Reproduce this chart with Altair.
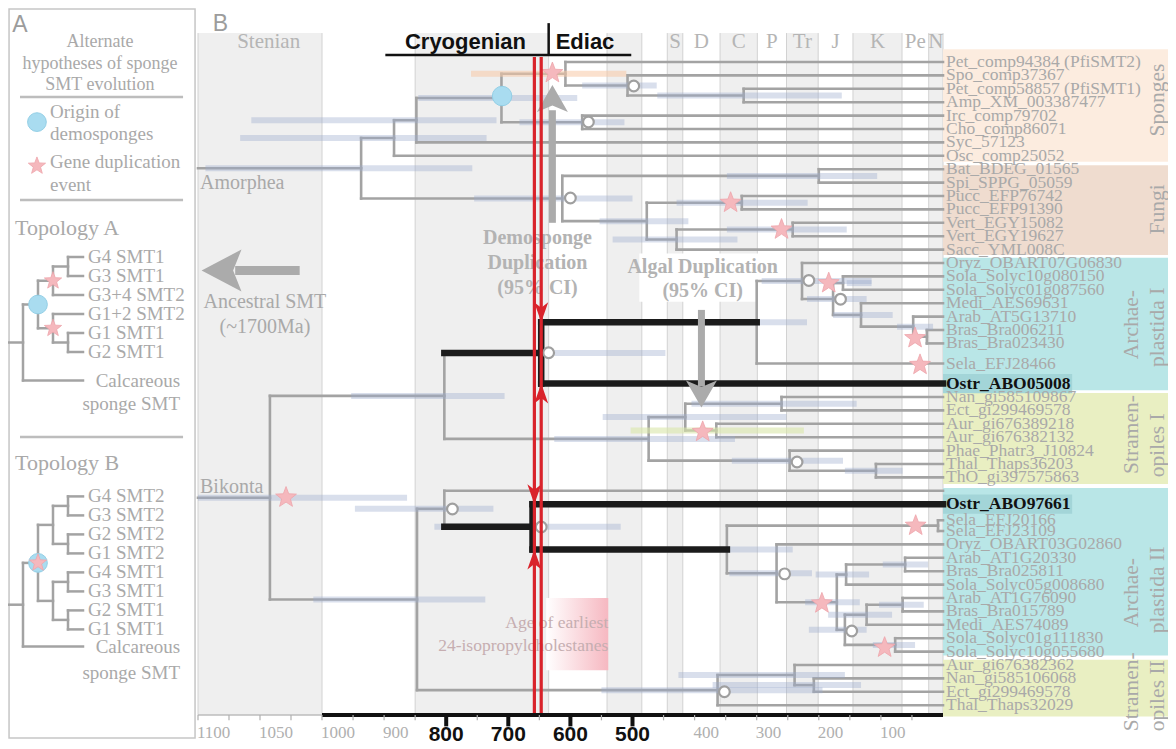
import altair as alt
import pandas as pd

SERIF = "Liberation Serif"
SANS = "Liberation Sans"
LINE_GREY = "#a3a3a3"
TEXT_GREY = "#a9a9a9"

# ====================== DATA ======================
# --- geological time bands (Ma) ---
period_names = ["Stenian", "Tonian", "Cryogenian", "Ediacaran", "Cambrian", "Ordovician",
                "S", "D", "C", "P", "Tr", "J", "K", "Pe", "N"]
period_old = [1100, 1000, 850, 635, 541, 485, 444, 419, 359, 299, 252, 201, 145, 66, 23]
period_young = [1000, 850, 635, 541, 485, 444, 419, 359, 299, 252, 201, 145, 66, 23, 0]
period_shaded = [1, 0, 1, 0, 1, 0, 1, 0, 1, 0, 1, 0, 1, 0, 1]
period_label_age = [1043, None, None, None, None, None, 431.5, 389, 329, 275.5, 226.5, 173, 105.5, 44.5, 11.5]
grid_ages = [1100, 1000, 850, 635, 541, 485, 444, 419, 359, 299, 252, 201, 145, 66, 23, 0]

# --- axis ---
tick_ages = [1100, 1075, 1050, 1025, 1000, 950, 900, 850, 800, 750, 700, 650, 600, 550,
             500, 450, 400, 350, 300, 250, 200, 150, 100, 50]
tick_labels_grey = [1100, 1050, 1000, 900, 400, 300, 200, 100]
tick_labels_bold = [800, 700, 600, 500]

# --- leaves (top to bottom) and their row in the tree ---
leaf_names = [
    "Pet_comp94384 (PfiSMT2)", "Spo_comp37367", "Pet_comp58857 (PfiSMT1)", "Amp_XM_003387477",
    "Irc_comp79702", "Cho_comp86071", "Syc_57123", "Osc_comp25052",
    "Bat_BDEG_01565", "Spi_SPPG_05059", "Pucc_EFP76742", "Pucc_EFP91390",
    "Vert_EGY15082", "Vert_EGY19627", "Sacc_YML008C",
    "Oryz_OBART07G06830", "Sola_Solyc10g080150", "Sola_Solyc01g087560", "Medi_AES69631",
    "Arab_AT5G13710", "Bras_Bra006211", "Bras_Bra023430", "Sela_EFJ28466", "Ostr_ABO05008",
    "Nan_gi585109867", "Ect_gi299469578", "Aur_gi676389218", "Aur_gi676382132",
    "Phae_Phatr3_J10824", "Thal_Thaps36203", "ThO_gi397575863", "",
    "Ostr_ABO97661", "Sela_EFJ20166", "Sela_EFJ23109", "Oryz_OBART03G02860",
    "Arab_AT1G20330", "Bras_Bra025811", "Sola_Solyc05g008680", "Arab_AT1G76090",
    "Bras_Bra015789", "Medi_AES74089", "Sola_Solyc01g111830", "Sola_Solyc10g055680",
    "Aur_gi676382362", "Nan_gi585106068", "Ect_gi299469578", "Thal_Thaps32029",
]
leaf_rows = [0, 1, 2, 3, 4, 5, 6, 7, 8, 9, 10, 11, 12, 13, 14,
             15, 16, 17, 18, 19, 20, 21, 22.5, 24,
             25, 26, 27, 28, 29, 30, 31, 32,
             33, 34.2, 35, 36, 37, 38, 39, 40, 41, 42, 43, 44,
             45, 46, 47, 48]
bold_leaves = [23, 32]

# --- internal nodes: name, age (Ma), children (int = leaf index) ---
node_names = ["SF", "SP", "DS", "DM", "D1", "D2", "PA", "IC", "FU", "BS", "F2", "PU", "F3", "VE",
              "BK", "UP", "B1", "A1", "A1a", "A1b", "SolP", "A1c", "A1d", "BrP",
              "S1", "S1a", "NE1", "AU1", "S1b", "TT",
              "LO", "L1", "B2", "A2", "SeP", "A2a", "A2b", "A2c", "AB1", "A2d", "A2e", "AB2", "SoP2",
              "S2", "S2a", "NE2"]
node_ages = [937, 884, 848, 711, 608, 508, 321, 581, 613, 200, 477, 324, 429, 242,
             1042, 803, 647, 300, 227, 177, 161, 132, 48, 26,
             474, 415, 260, 365, 247, 108,
             847, 803, 661, 348, 8, 268, 171, 156, 61, 158, 123, 65, 77,
             363, 239, 208]
node_kids = [["SP", "FU"], ["DS", 7], ["DM", 6], ["D1", "IC"], [0, "D2"], [1, "PA"], [2, 3], [4, 5],
             ["BS", "F2"], [8, 9], ["PU", "F3"], [10, 11], ["VE", 14], [12, 13],
             ["UP", "LO"], ["B1", "S1"], ["A1", 23], ["A1a", 22], [15, "A1b"], ["SolP", "A1c"], [16, 17],
             [18, "A1d"], [19, "BrP"], [20, 21],
             ["S1a", "S1b"], ["NE1", "AU1"], [24, 25], [26, 27], [28, "TT"], [29, 30],
             ["L1", "S2"], [31, "B2"], [32, "A2"], ["SeP", "A2a"], [33, 34], [35, "A2b"], ["A2c", "A2d"],
             ["AB1", 38], [36, 37], ["A2e", "SoP2"], ["AB2", 41], [39, 40], [42, 43],
             ["S2a", 47], [44, "NE2"], [45, 46]]
root_nodes = ["SF", "BK"]
black_edges = [("UP", "B1"), ("B1", "A1"), ("B1", 23), ("L1", "B2"), ("B2", 32), ("B2", "A2")]
black_nodes = ["B1", "B2"]

# --- 95% CI bars of node ages (old, young) ---
ci_node = ["SF", "SP", "DS", "DM", "D1", "D2", "PA", "IC", "FU", "BS", "F2", "PU", "F3", "VE",
           "BK", "UP", "B1", "A1", "A1a", "A1b", "SolP", "A1c", "A1d",
           "S1", "S1a", "NE1", "AU1", "S1b", "TT",
           "LO", "L1", "B2", "A2", "A2a", "A2b", "A2c", "AB1", "A2d", "A2e", "AB2", "SoP2",
           "S2", "S2a", "NE2"]
ci_old = [1094, 1066, 1057, 845, 760, 581, 460, 682, 755, 348, 553, 429, 532, 348,
          1100, 953, 626, 392, 292, 219, 155, 177, 74,
          626, 548, 405, 503, 340, 158,
          1007, 947, 819, 348, 344, 222, 205, 97, 216, 185, 103, 113,
          550, 426, 371]
ci_young = [758, 735, 719, 589, 510, 461, 163, 513, 500, 106, 410, 218, 331, 155,
            863, 706, 447, 219, 115, 123, 115, 81, 16,
            335, 252, 139, 224, 161, 65,
            737, 724, 519, 242, 211, 134, 119, 24, 123, 82, 31, 45,
            194, 158, 132]
ci_kind = ["grey"] * len(ci_node)
ci_kind[ci_node.index("D1")] = "sponge"
ci_kind[ci_node.index("AU1")] = "algal"

# --- markers ---
star_age = [629, 342, 260, 184, 45, 37, 387, 1029, 44, 195, 94]
star_row = [0.82, 10.5, 12.5, 16.5, 20.6, 22.6, 27.6, 32.5, 34.6, 40.4, 43.7]
circle_age = [498, 571, 600, 216, 165, 635, 235, 790, 647, 255, 147, 352]
circle_row = [1.79, 4.48, 10.15, 16.3, 17.7, 21.7, 29.85, 33.36, 34.7, 38.2, 42.46, 47.0]
demo_origin_age = [710]
demo_origin_row = [2.54]
red_line_ages = [658, 647]

# --- clade boxes on the right ---
group_names = ["Sponges", "Fungi", "Archaeplastida I", "Stramenopiles I", "Archaeplastida II", "Stramenopiles II"]
group_row_top = [-0.95, 7.7, 14.6, 24.7, 31.8, 44.6]
group_row_bottom = [7.45, 14.4, 24.5, 31.5, 44.3, 48.85]
group_colors = ["#fcecdf", "#efdccf", "#b9e6e7", "#e9efc2", "#b9e6e7", "#e9efc2"]
group_line1 = ["", "", "Archae-", "Stramen-", "Archae-", "Stramen-"]
group_line2 = ["Sponges", "Fungi", "plastida I", "opiles I", "plastida II", "opiles II"]
group_label_row1 = [2.84, 11.0, 19.6, 27.8, 39.6, 47.0]
group_label_row2 = [2.84, 11.0, 19.8, 28.6, 39.4, 47.3]

# --- panel A schematic trees (depth, row) ---
treeA_leaves = ["G4 SMT1", "G3 SMT1", "G3+4 SMT2", "G1+2 SMT2", "G1 SMT1", "G2 SMT1", ""]
treeA_rows = [0, 1, 2, 3, 4, 5, 6.5]
treeA_nodes = {"a4": (4, [0, 1]), "a2": (3, ["a4", 2]), "a5": (4, [4, 5]),
               "a3": (3, [3, "a5"]), "a1": (2, ["a2", "a3"]), "a0": (1, ["a1", 6])}
treeA_stars = ["a2", "a3"]
treeA_origin = ["a1"]
treeB_leaves = ["G4 SMT2", "G3 SMT2", "G2 SMT2", "G1 SMT2", "G4 SMT1", "G3 SMT1", "G2 SMT1", "G1 SMT1", ""]
treeB_rows = [12.6, 13.6, 14.6, 15.6, 16.6, 17.6, 18.6, 19.6, 20.5]
treeB_nodes = {"p1": (4, [0, 1]), "p2": (4, [2, 3]), "p3": (4, [4, 5]), "p4": (4, [6, 7]),
               "m1": (3, ["p1", "p2"]), "m2": (3, ["p3", "p4"]), "k": (2, ["m1", "m2"]),
               "r": (1, ["k", 8])}
treeB_stars = ["k"]
treeB_origin = ["k"]
LEAF_DEPTH = 5

# ====================== SCALES ======================
XS = alt.Scale(domain=[1100, 1000, 0], range=[190, 314, 935], nice=False, zero=False)
YS = alt.Scale(domain=[0, 48], range=[54, 697.2], nice=False, zero=False)
XA = alt.Scale(domain=[0, 10], range=[0, 150], nice=False, zero=False)
YA = alt.Scale(domain=[0, 10], range=[249, 439], nice=False, zero=False)

ROW_SHADE_TOP = -2.16
ROW_AXIS = 48.73


def lay(df, mark, x, y, x2=None, y2=None, panel="B", **enc):
    xs, ys = (XS, YS) if panel == "B" else (XA, YA)
    e = dict(x=alt.X(x, type="quantitative", scale=xs, axis=None),
             y=alt.Y(y, type="quantitative", scale=ys, axis=None))
    if x2:
        e["x2"] = alt.X2(x2)
    if y2:
        e["y2"] = alt.Y2(y2)
    e.update(enc)
    return mark(alt.Chart(pd.DataFrame(df))).encode(**e)


def txt(df, panel="B", **props):
    base = dict(font=SERIF, color=TEXT_GREY)
    base.update(props)
    return lay(df, lambda c: c.mark_text(**base), "x", "y", panel=panel, text=alt.Text("t:N"))


layers = []

# ---------- panel A frame ----------
layers.append(lay({"x": [0.07], "x2": [12.47], "y": [-13.05], "y2": [25.32]},
                  lambda c: c.mark_rect(filled=False, color="#c6c6c6", strokeWidth=1.5),
                  "x", "y", "x2", "y2", panel="A"))

# ---------- period shading & grid ----------
shade = pd.DataFrame({"o": period_old, "yg": period_young, "s": period_shaded})
shade = shade[shade.s == 1].assign(r1=ROW_SHADE_TOP, r2=ROW_AXIS)
layers.append(lay(shade, lambda c: c.mark_rect(color="#efefef"), "o", "r1", "yg", "r2"))
grid = pd.DataFrame({"a": grid_ages, "r1": ROW_SHADE_TOP, "r2": ROW_AXIS})
layers.append(lay(grid, lambda c: c.mark_rule(color="#d2d2d2", strokeWidth=1), "a", "r1", "a", "r2"))

# ---------- clade boxes ----------
grp = pd.DataFrame({"a1": 0, "a2": -400, "r1": group_row_top, "r2": group_row_bottom, "col": group_colors})
layers.append(lay(grp, lambda c: c.mark_rect(), "a1", "r1", "a2", "r2",
                  color=alt.Color("col:N", scale=None)))
ostr = pd.DataFrame({"a1": 0, "a2": -208,
                     "r1": [leaf_rows[i] - 0.72 for i in bold_leaves],
                     "r2": [leaf_rows[i] + 0.72 for i in bold_leaves]})
layers.append(lay(ostr, lambda c: c.mark_rect(color="#a3d5d8"), "a1", "r1", "a2", "r2"))

# ---------- sterane age box ----------
layers.append(lay({"a1": [639], "a2": [539], "r1": [40.0], "r2": [45.4]},
                  lambda c: c.mark_rect(color=alt.Gradient(
                      gradient="linear",
                      stops=[alt.GradientStop(color="#ffffff", offset=0),
                             alt.GradientStop(color="#f6b8c1", offset=1)],
                      x1=0, x2=1, y1=0, y2=0)),
                  "a1", "r1", "a2", "r2"))
# white backing for algal label
layers.append(lay({"a1": [489], "a2": [287], "r1": [14.3], "r2": [17.9]},
                  lambda c: c.mark_rect(color="white"), "a1", "r1", "a2", "r2"))

# ---------- tree geometry ----------
ages_of = dict(zip(node_names, node_ages))
kids_of = dict(zip(node_names, node_kids))
rows_of = {}


def rw(k):
    if isinstance(k, int):
        return leaf_rows[k]
    if k not in rows_of:
        ch = kids_of[k]
        rows_of[k] = (rw(ch[0]) + rw(ch[-1])) / 2
    return rows_of[k]


def ag(k):
    return 0.0 if isinstance(k, int) else ages_of[k]


segs = []
for n in node_names:
    ch = kids_of[n]
    segs.append(dict(a1=ag(n), a2=ag(n), r1=rw(ch[0]), r2=rw(ch[-1]), black=n in black_nodes))
    for c in ch:
        segs.append(dict(a1=ag(n), a2=ag(c), r1=rw(c), r2=rw(c), black=(n, c) in black_edges))
for rt in root_nodes:
    segs.append(dict(a1=1100, a2=ag(rt), r1=rw(rt), r2=rw(rt), black=False))
segs = pd.DataFrame(segs)

layers.append(lay(segs[~segs.black], lambda c: c.mark_rule(color=LINE_GREY, strokeWidth=2.6, strokeCap="square"),
                  "a1", "r1", "a2", "r2"))

ci = pd.DataFrame({"o": ci_old, "yg": ci_young, "k": ci_kind, "r": [rw(n) for n in ci_node]})
layers.append(lay(ci[ci.k == "grey"], lambda c: c.mark_rule(color="#9aaace", opacity=0.38, strokeWidth=6),
                  "o", "r", "yg", "r"))
layers.append(lay(ci[ci.k == "sponge"], lambda c: c.mark_rule(color="#f7c9a6", opacity=0.55, strokeWidth=6),
                  "o", "r", "yg", "r"))
layers.append(lay(ci[ci.k == "algal"], lambda c: c.mark_rule(color="#d9e6a8", opacity=0.6, strokeWidth=6),
                  "o", "r", "yg", "r"))

layers.append(lay(segs[segs.black], lambda c: c.mark_rule(color="#1b1b1b", strokeWidth=6.5, strokeCap="square"),
                  "a1", "r1", "a2", "r2"))

# ---------- grey arrows ----------
ARROW_GREY = "#ababab"
layers.append(lay({"a1": [629, 389], "a2": [629, 389], "r1": [12.0, 18.5], "r2": [3.6, 24.2]},
                  lambda c: c.mark_rule(color=ARROW_GREY, strokeWidth=7), "a1", "r1", "a2", "r2"))
layers.append(lay({"a1": [1070], "a2": [1018], "r1": [15.56], "r2": [15.56]},
                  lambda c: c.mark_rule(color=ARROW_GREY, strokeWidth=9), "a1", "r1", "a2", "r2"))
layers.append(lay({"a": [629], "r": [2.72]},
                  lambda c: c.mark_point(shape="M0,-0.87L1,0.87L0,0.45L-1,0.87Z", filled=True,
                                         color=ARROW_GREY, size=961, opacity=1), "a", "r"))
layers.append(lay({"a": [389], "r": [24.78]},
                  lambda c: c.mark_point(shape="M0,0.87L1,-0.87L0,-0.45L-1,-0.87Z", filled=True,
                                         color=ARROW_GREY, size=961, opacity=1), "a", "r"))
layers.append(lay({"a": [1081], "r": [15.56]},
                  lambda c: c.mark_point(shape="M-0.95,0L0.95,-1L0.55,0L0.95,1Z", filled=True,
                                         color=ARROW_GREY, size=1764, opacity=1), "a", "r"))

# ---------- node markers ----------
STAR = ("M0,-1L0.247,-0.34L0.951,-0.309L0.4,0.13L0.588,0.809L0,0.42L-0.588,0.809L-0.4,0.13"
        "L-0.951,-0.309L-0.247,-0.34Z")
layers.append(lay({"a": demo_origin_age, "r": demo_origin_row},
                  lambda c: c.mark_point(shape="circle", filled=True, fill="#a9dcf0", stroke="#93cfe6",
                                         strokeWidth=1, size=380, opacity=1), "a", "r"))
layers.append(lay({"a": star_age, "r": star_row},
                  lambda c: c.mark_point(shape=STAR, filled=True, fill="#f5b8bd", stroke="#eda4ab",
                                         strokeWidth=0.8, size=480, opacity=1), "a", "r"))
layers.append(lay({"a": circle_age, "r": circle_row},
                  lambda c: c.mark_point(shape="circle", filled=True, fill="white", stroke="#9f9f9f",
                                         strokeWidth=2.2, size=115, opacity=1), "a", "r"))

# ---------- annotation texts ----------
layers.append(txt({"x": [1100, 1100], "y": [9.0, 31.7], "t": ["Amorphea", "Bikonta"]},
                  fontSize=20, align="left", dx=2, baseline="middle"))
layers.append(txt({"x": [1046, 1046], "y": [17.9, 19.8], "t": ["Ancestral SMT", "(~1700Ma)"]},
                  fontSize=20, align="center", baseline="middle"))
layers.append(txt({"x": [653, 653, 653], "y": [13.13, 15.0, 16.87],
                   "t": ["Demosponge", "Duplication", "(95% CI)"]},
                  fontSize=20, fontWeight="bold", align="center", baseline="middle", color="#b3b3b3"))
layers.append(txt({"x": [387, 387], "y": [15.3, 17.1], "t": ["Algal Duplication", "(95% CI)"]},
                  fontSize=20, fontWeight="bold", align="center", baseline="middle", color="#b3b3b3"))
layers.append(txt({"x": [539, 539], "y": [41.9, 43.6], "t": ["Age of earliest", "24-isopropylcholestanes"]},
                  fontSize=17.5, align="right", baseline="middle", color="#c6aeb1"))

# ---------- leaf labels ----------
leaf_df = pd.DataFrame({"t": leaf_names, "y": leaf_rows, "x": 0.0})
leaf_df["bold"] = [i in bold_leaves for i in range(len(leaf_names))]
leaf_df = leaf_df[leaf_df.t != ""]
layers.append(txt(leaf_df[~leaf_df.bold], fontSize=17.5, align="left", dx=3, baseline="middle"))
layers.append(txt(leaf_df[leaf_df.bold], fontSize=17.5, fontWeight="bold", color="#111111",
                  align="left", dx=3, baseline="middle"))

# clade labels (rotated)
g1 = pd.DataFrame({"t": group_line1, "y": group_label_row1, "x": -305})
g1 = g1[g1.t != ""]
g2 = pd.DataFrame({"t": group_line2, "y": group_label_row2, "x": -346})
layers.append(txt(g1, fontSize=21.5, angle=270, align="center", baseline="middle"))
layers.append(txt(g2, fontSize=21.5, angle=270, align="center", baseline="middle"))

# ---------- red duplication lines ----------
red = pd.DataFrame({"a": red_line_ages, "r1": -0.37, "r2": ROW_AXIS})
layers.append(lay(red, lambda c: c.mark_rule(color="#d9232b", strokeWidth=3.2), "a", "r1", "a", "r2"))
arr_down = pd.DataFrame({"a": [647, 658], "r": [rw("A1"), rw(32)]})
arr_up = pd.DataFrame({"a": [647, 658], "r": [rw(23), rw("A2")]})
layers.append(lay(arr_down, lambda c: c.mark_point(shape="M0,1L0.7,-1L0,-0.45L-0.7,-1Z", filled=True,
                                                   color="#d9232b", size=400, opacity=1, yOffset=-10),
                  "a", "r"))
layers.append(lay(arr_up, lambda c: c.mark_point(shape="M0,-1L0.7,1L0,0.45L-0.7,1Z", filled=True,
                                                 color="#d9232b", size=400, opacity=1, yOffset=10),
                  "a", "r"))

# ---------- header: periods ----------
plab = pd.DataFrame({"t": period_names, "x": period_label_age, "y": -1.49}).dropna()
layers.append(txt(plab, fontSize=21, align="center", baseline="middle", color="#b5b5b5"))
layers.append(txt({"x": [769], "y": [-1.49], "t": ["Cryogenian"]}, font=SANS, fontWeight="bold",
                  fontSize=22, color="#111111", align="center", baseline="middle"))
layers.append(txt({"x": [635], "y": [-1.49], "t": ["Ediac"]}, font=SANS, fontWeight="bold",
                  fontSize=22, color="#111111", align="left", dx=7, baseline="middle"))
layers.append(lay({"a1": [898, 635], "a2": [502, 635], "r1": [-0.52, -2.9], "r2": [-0.52, -0.52]},
                  lambda c: c.mark_rule(color="#111111", strokeWidth=2.5), "a1", "r1", "a2", "r2"))
layers.append(txt({"x": [1082], "y": [-2.85], "t": ["B"]}, font=SANS, fontSize=23, align="center",
                  baseline="middle", color="#9c9c9c"))

# ---------- bottom axis ----------
layers.append(lay({"a1": [1100], "a2": [1000], "r": [ROW_AXIS]},
                  lambda c: c.mark_rule(color="#bdbdbd", strokeWidth=1.5), "a1", "r", "a2", "r"))
layers.append(lay({"a1": [1000], "a2": [0], "r": [ROW_AXIS]},
                  lambda c: c.mark_rule(color="#111111", strokeWidth=4), "a1", "r", "a2", "r"))
ticks = pd.DataFrame({"a": tick_ages, "r1": ROW_AXIS, "r2": ROW_AXIS + 0.4})
ticks = ticks[~ticks.a.isin(tick_labels_bold)]
layers.append(lay(ticks, lambda c: c.mark_rule(color="#b0b0b0", strokeWidth=1.2), "a", "r1", "a", "r2"))
bt = pd.DataFrame({"a": tick_labels_bold, "r1": ROW_AXIS, "r2": ROW_AXIS + 0.85})
layers.append(lay(bt, lambda c: c.mark_rule(color="#111111", strokeWidth=4), "a", "r1", "a", "r2"))
layers.append(txt({"x": tick_labels_grey, "y": [50.07] * len(tick_labels_grey),
                   "t": [str(v) for v in tick_labels_grey]},
                  fontSize=17, align="left", dx=-1, baseline="middle", color="#b0b0b0"))
layers.append(txt({"x": tick_labels_bold, "y": [50.2] * len(tick_labels_bold),
                   "t": [str(v) for v in tick_labels_bold]},
                  font=SANS, fontWeight="bold", fontSize=21, align="center", baseline="middle",
                  color="#111111"))


# ====================== PANEL A ======================
def schematic(leaves, rows, nodes):
    def r(k):
        return rows[k] if isinstance(k, int) else (r(nodes[k][1][0]) + r(nodes[k][1][-1])) / 2

    def d(k):
        return LEAF_DEPTH if isinstance(k, int) else nodes[k][0]

    out = []
    for n, (dep, ch) in nodes.items():
        out.append(dict(d1=dep, d2=dep, r1=r(ch[0]), r2=r(ch[-1])))
        for c in ch:
            out.append(dict(d1=dep, d2=d(c), r1=r(c), r2=r(c)))
    root = [n for n in nodes if all(n not in v[1] for v in nodes.values())][0]
    out.append(dict(d1=0, d2=nodes[root][0], r1=r(root), r2=r(root)))
    return pd.DataFrame(out), r


segA, rA = schematic(treeA_leaves, treeA_rows, treeA_nodes)
segB, rB = schematic(treeB_leaves, treeB_rows, treeB_nodes)
segAB = pd.concat([segA, segB])
layers.append(lay(segAB, lambda c: c.mark_rule(color=LINE_GREY, strokeWidth=2.5, strokeCap="square"),
                  "d1", "r1", "d2", "r2", panel="A"))

orig = pd.DataFrame({"x": [1.93] + [treeA_nodes[n][0] for n in treeA_origin] + [treeB_nodes[n][0] for n in treeB_origin],
                     "y": [-7.1] + [rA(n) for n in treeA_origin] + [rB(n) for n in treeB_origin]})
layers.append(lay(orig, lambda c: c.mark_point(shape="circle", filled=True, fill="#a9dcf0", stroke="#93cfe6",
                                               strokeWidth=1, size=350, opacity=1), "x", "y", panel="A"))
stars_a = pd.DataFrame({"x": [1.93] + [treeA_nodes[n][0] for n in treeA_stars] + [treeB_nodes[n][0] for n in treeB_stars],
                        "y": [-4.79] + [rA(n) for n in treeA_stars] + [rB(n) for n in treeB_stars]})
layers.append(lay(stars_a, lambda c: c.mark_point(shape=STAR, filled=True, fill="#f5b8bd", stroke="#eda4ab",
                                                  strokeWidth=0.8, size=330, opacity=1), "x", "y", panel="A"))

sepA = pd.DataFrame({"d1": 0.8, "d2": 11.67, "r": [-8.42, -3.0, 9.47]})
layers.append(lay(sepA, lambda c: c.mark_rule(color="#bdbdbd", strokeWidth=2.5), "d1", "r", "d2", "r", panel="A"))

leafA = pd.DataFrame({"t": treeA_leaves + treeB_leaves, "y": treeA_rows + treeB_rows, "x": 5.33})
leafA = leafA[leafA.t != ""]
layers.append(txt(leafA, panel="A", fontSize=19, align="left", baseline="middle"))
layers.append(txt({"x": [11.47] * 4, "y": [6.53, 7.74, 20.53, 21.9],
                   "t": ["Calcareous", "sponge SMT", "Calcareous", "sponge SMT"]},
                  panel="A", fontSize=19, align="right", baseline="middle"))
layers.append(txt({"x": [6.13] * 3, "y": [-11.32, -10.16, -9.05],
                   "t": ["Alternate", "hypotheses of sponge", "SMT evolution"]},
                  panel="A", fontSize=18, align="center", baseline="middle"))
layers.append(txt({"x": [2.8] * 4, "y": [-7.63, -6.47, -5.0, -3.79],
                   "t": ["Origin of", "demosponges", "Gene duplication", "event"]},
                  panel="A", fontSize=19, align="left", baseline="middle"))
layers.append(txt({"x": [0.47, 0.47], "y": [-1.53, 10.84], "t": ["Topology A", "Topology B"]},
                  panel="A", fontSize=22, align="left", baseline="middle"))
layers.append(txt({"x": [0.8], "y": [-12.2], "t": ["A"]}, panel="A", font=SANS, fontSize=23,
                  align="center", baseline="middle", color="#9c9c9c"))

chart = (
    alt.layer(*layers)
    .resolve_scale(x="independent", y="independent")
    .properties(width=1160, height=739, padding=0,
                autosize=alt.AutoSizeParams(type="none"))
    .configure_view(stroke=None)
)
chart.save("out.html", embed_options={"renderer": "svg", "actions": False})
